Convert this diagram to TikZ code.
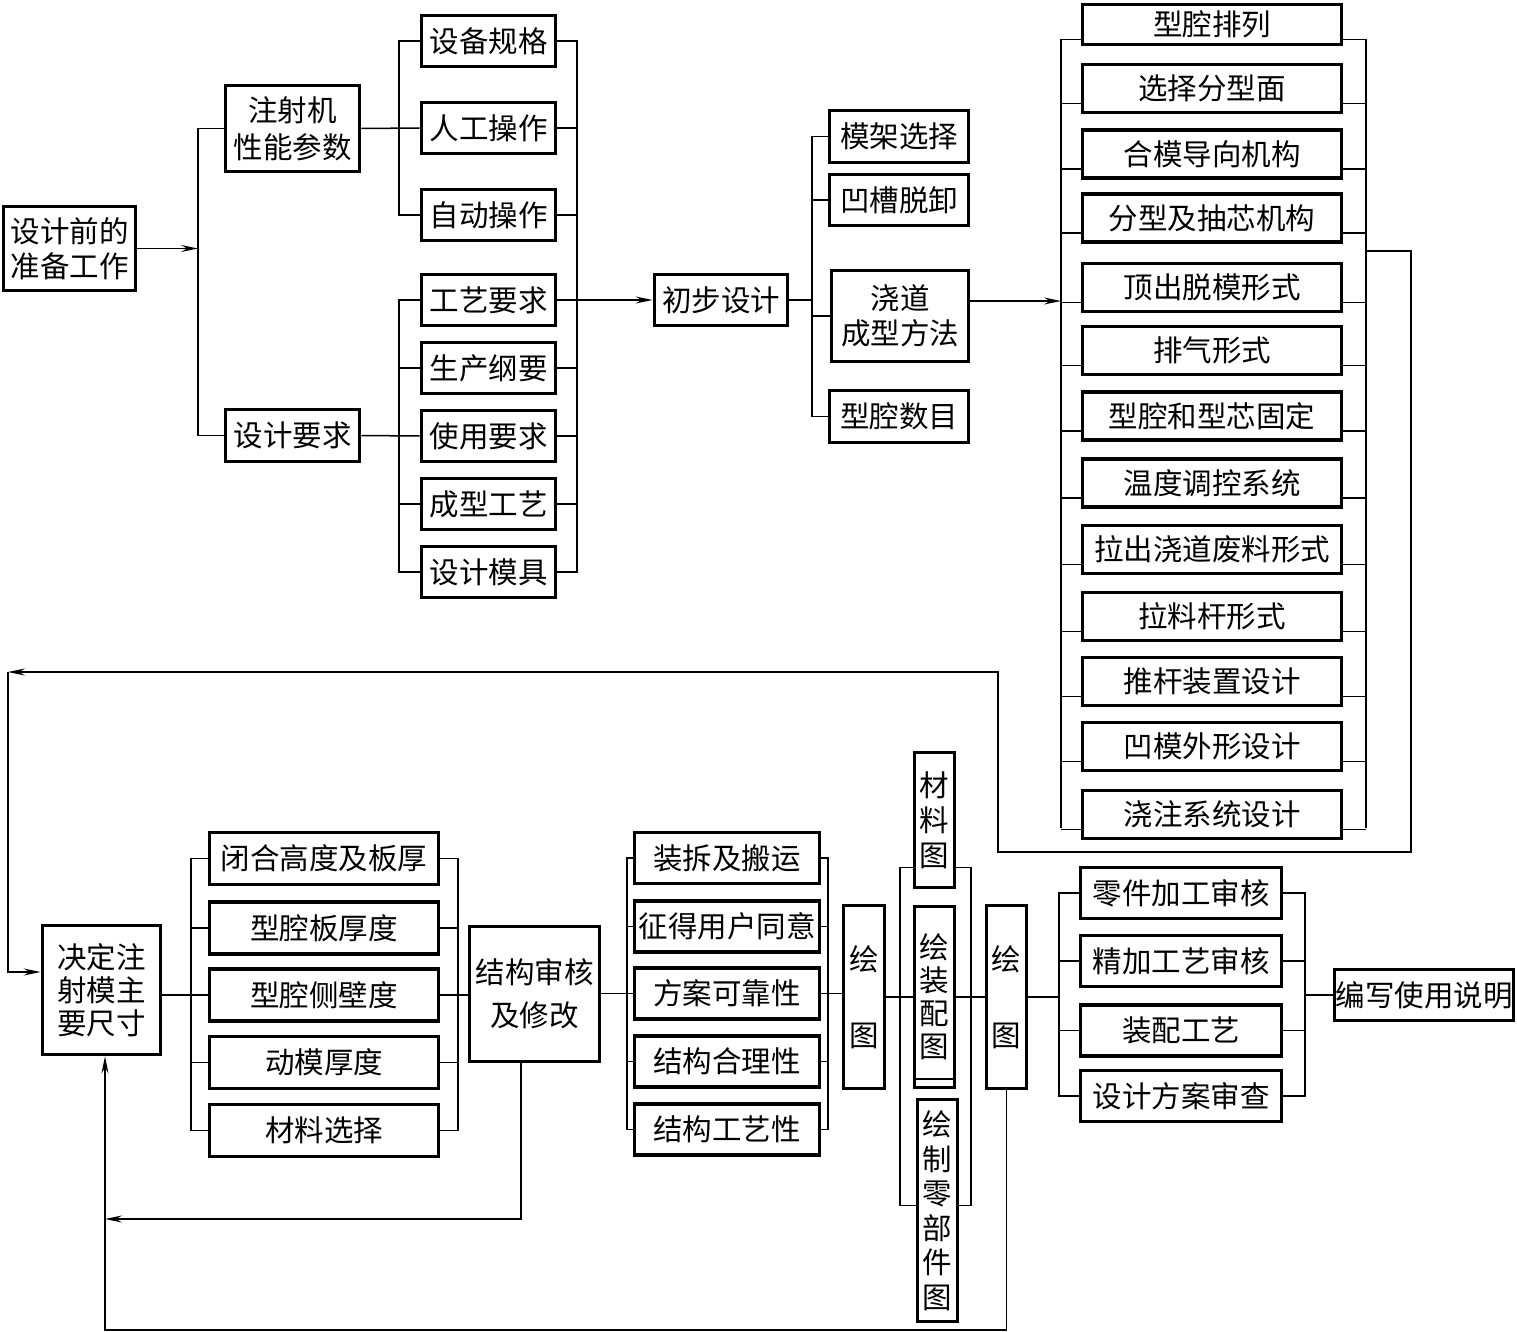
\documentclass[tikz,border=0pt]{standalone}
\usepackage{fontspec}
\newfontfamily\cjk{Noto Sans CJK SC}
\usetikzlibrary{arrows.meta}
\begin{document}
\begin{tikzpicture}[x=1pt,y=-1pt,
  bx/.style={draw, line width=3.8pt, inner sep=0pt, align=center, font=\cjk\fontsize{29.5}{35}\selectfont},
  ln/.style={line width=1.5pt},
  arr/.style={ln, -{Stealth[length=17pt,width=7pt,inset=6pt]}}
]
\useasboundingbox (0,0) rectangle (1517,1332);
\fill[white] (0,0) rectangle (1517,1332);
% bus x positions
\coordinate (x1) at (198,0);
\coordinate (x2) at (399,0);
\coordinate (x3) at (577,0);
\coordinate (x4) at (812,0);
\coordinate (x5) at (1061,0);
\coordinate (x6) at (1366,0);
\coordinate (xb1) at (191,0);
\coordinate (xb2) at (458,0);
\coordinate (xb3) at (627,0);
\coordinate (xb4) at (828,0);
\coordinate (xb5) at (900,0);
\coordinate (xb6) at (971,0);
\coordinate (xb7) at (1059,0);
\coordinate (xb8) at (1305,0);
% ---------- top part ----------
\node[bx,minimum width=132pt,minimum height=84pt] (A) at (69.5,248.5) {设计前的\\准备工作};
\node[bx,minimum width=134pt,minimum height=86pt,font=\cjk\fontsize{29.5}{37}\selectfont] (B) at (292.5,128.5) {注射机\\性能参数};
\node[bx,minimum width=134pt,minimum height=52pt] (C) at (292.5,435.5) {设计要求};
\foreach \n/\y/\t in {t1/41/设备规格, t2/128/人工操作, t3/215/自动操作,
                      l1/300/工艺要求, l2/368/生产纲要, l3/436/使用要求, l4/504/成型工艺, l5/572/设计模具}
  \node[bx,minimum width=134pt,minimum height=51pt] (\n) at (488.5,\y) {\t};
\node[bx,minimum width=133pt,minimum height=51pt] (P) at (721,300) {初步设计};
\node[bx,minimum width=139pt,minimum height=52pt] (m1) at (899,136.5) {模架选择};
\node[bx,minimum width=139pt,minimum height=51pt] (m2) at (899,200) {凹槽脱卸};
\node[bx,minimum width=137pt,minimum height=91pt] (m3) at (900,316) {浇道\\成型方法};
\node[bx,minimum width=139pt,minimum height=52pt] (m4) at (899,416.5) {型腔数目};
\node[bx,minimum width=259pt,minimum height=40pt] (r1) at (1212,24.5) {型腔排列};
\foreach \n/\y/\t in {r2/88.5/选择分型面, r3/154/合模导向机构, r4/218/分型及抽芯机构,
                      r5/287.5/顶出脱模形式, r6/350.5/排气形式, r7/416/型腔和型芯固定,
                      r8/483/温度调控系统, r9/549.5/拉出浇道废料形式, r10/616.5/拉料杆形式,
                      r11/681.5/推杆装置设计, r12/746.5/凹模外形设计, r13/814.5/浇注系统设计}
  \node[bx,minimum width=259pt,minimum height=48pt] (\n) at (1212,\y) {\t};
% top connectors
\draw[arr] (A.east) -- (A.east -| x1);
\draw[ln] (B.west) -- (B.west -| x1) -- (C.west -| x1) -- (C.west);
\draw[ln] (B.east) -- (t2.west);
\draw[ln] (t1.west) -- (t1.west -| x2) -- (t3.west -| x2) -- (t3.west);
\draw[ln] (C.east) -- (l3.west);
\draw[ln] (l1.west) -- (l1.west -| x2) -- (l5.west -| x2) -- (l5.west);
\foreach \n in {l2,l4} \draw[ln] (\n.west) -- (\n.west -| x2);
\draw[ln] (t1.east) -- (t1.east -| x3) -- (l5.east -| x3) -- (l5.east);
\foreach \n in {t2,t3,l2,l3,l4} \draw[ln] (\n.east) -- (\n.east -| x3);
\draw[arr] (l1.east) -- (P.west);
\draw[ln] (P.east) -- (P.east -| x4);
\draw[ln] (m1.west) -- (m1.west -| x4) -- (m4.west -| x4) -- (m4.west);
\foreach \n in {m2,m3} \draw[ln] (\n.west) -- (\n.west -| x4);
\draw[arr] ([yshift=15pt]m3.east) -- ([yshift=15pt]m3.east -| x5);
\foreach \i in {1,...,13} {
  \draw[ln] ([yshift=-15pt]r\i.west) -- ([yshift=-15pt]r\i.west -| x5);
  \draw[ln] ([yshift=-15pt]r\i.east) -- ([yshift=-15pt]r\i.east -| x6);
}
\draw[ln] ([yshift=-15pt]r1.west -| x5) -- ([yshift=-13pt]r13.west -| x5);
\draw[ln] ([yshift=-15pt]r1.east -| x6) -- ([yshift=-13pt]r13.east -| x6);
% ---------- bottom part ----------
\node[bx,minimum width=118pt,minimum height=129pt,font=\cjk\fontsize{29.5}{33}\selectfont] (D) at (101.5,990) {决定注\\射模主\\要尺寸};
\foreach \n/\y/\t in {b1/858.5/闭合高度及板厚, b2/928/型腔板厚度, b3/995/型腔侧壁度, b4/1062.5/动模厚度, b5/1130.5/材料选择}
  \node[bx,minimum width=229pt,minimum height=52pt] (\n) at (324,\y) {\t};
\node[bx,minimum width=130pt,minimum height=135pt,font=\cjk\fontsize{29.5}{43}\selectfont] (E) at (534.5,994) {结构审核\\及修改};
\foreach \n/\y/\t in {c1/858/装拆及搬运, c2/926.5/征得用户同意, c3/993.5/方案可靠性, c4/1061.5/结构合理性, c5/1129.5/结构工艺性}
  \node[bx,minimum width=185pt,minimum height=51pt] (\n) at (727,\y) {\t};
\node[bx,minimum width=41pt,minimum height=183pt] (F) at (864,997) {绘\\[41pt]图};
\node[bx,minimum width=40pt,minimum height=135pt] (G1) at (934.5,820) {材\\料\\图};
\node[bx,minimum width=40pt,minimum height=181pt,font=\cjk\fontsize{29.5}{33}\selectfont] (G2) at (934.5,997) {绘\\装\\配\\图};
\node[bx,minimum width=40pt,minimum height=222pt,font=\cjk\fontsize{29.5}{34.5}\selectfont] (G3) at (937.5,1210.5) {绘\\制\\零\\部\\件\\图};
\draw[line width=2pt] ([yshift=10pt]G2.south west) -- ([yshift=10pt]G2.south east);
\node[bx,minimum width=40pt,minimum height=183pt] (H) at (1006.5,997) {绘\\[41pt]图};
\foreach \n/\y/\t in {k1/893/零件加工审核, k2/961/精加工艺审核, k3/1030.5/装配工艺, k4/1096/设计方案审查}
  \node[bx,minimum width=201pt,minimum height=51pt] (\n) at (1181,\y) {\t};
\node[bx,minimum width=179pt,minimum height=51pt] (W) at (1424,995) {编写使用说明};
% bottom connectors
\draw[ln] (D.east |- b3.west) -- (b3.west);
\draw[ln] (b1.west) -- (b1.west -| xb1) -- (b5.west -| xb1) -- (b5.west);
\foreach \n in {b2,b4} \draw[ln] (\n.west) -- (\n.west -| xb1);
\draw[ln] (b1.east) -- (b1.east -| xb2) -- (b5.east -| xb2) -- (b5.east);
\foreach \n in {b2,b4} \draw[ln] (\n.east) -- (\n.east -| xb2);
\draw[ln] (b3.east) -- (E.west |- b3.east);
\draw[ln] (E.east |- c3.west) -- (c3.west);
\draw[ln] (c1.west) -- (c1.west -| xb3) -- (c5.west -| xb3) -- (c5.west);
\foreach \n in {c2,c4} \draw[ln] (\n.west) -- (\n.west -| xb3);
\draw[ln] (c1.east) -- (c1.east -| xb4) -- (c5.east -| xb4) -- (c5.east);
\foreach \n in {c2,c4} \draw[ln] (\n.east) -- (\n.east -| xb4);
\draw[ln] (c3.east) -- (F.west |- c3.east);
\draw[ln] (F.east) -- (G2.west);
\draw[ln] ([yshift=22pt]G1.south west) -- ([yshift=22pt]G1.south west -| xb5) -- ([yshift=5pt]G3.west -| xb5) -- ([yshift=5pt]G3.west);
\draw[ln] ([yshift=22pt]G1.south east) -- ([yshift=22pt]G1.south east -| xb6) -- ([yshift=5pt]G3.east -| xb6) -- ([yshift=5pt]G3.east);
\draw[ln] (G2.east) -- (H.west);
\draw[ln] (H.east) -- (H.east -| xb7);
\draw[ln] (k1.west) -- (k1.west -| xb7) -- (k4.west -| xb7) -- (k4.west);
\foreach \n in {k2,k3} \draw[ln] (\n.west) -- (\n.west -| xb7);
\draw[ln] (k1.east) -- (k1.east -| xb8) -- (k4.east -| xb8) -- (k4.east);
\foreach \n in {k2,k3} \draw[ln] (\n.east) -- (\n.east -| xb8);
\draw[ln] (W.west -| xb8) -- (W.west);
% feedback loops
\coordinate (f0) at (1366,251);
\coordinate (f1) at (1411,251);
\coordinate (f2) at (1411,852);
\coordinate (f3) at (998,852);
\coordinate (f4) at (998,672);
\coordinate (f5) at (8,672);
\coordinate (f6) at (8,972);
\draw[arr] (f0) -- (f1) -- (f2) -- (f3) -- (f4) -- (f5);
\draw[arr] (f5) -- (f6) -- (f6 -| D.west);
\coordinate (e1) at (521,1219);
\coordinate (e2) at (105,1219);
\draw[arr] ([xshift=-13.5pt]E.south) -- (e1) -- (e2);
\coordinate (h1) at (1006.5,1330);
\coordinate (h2) at (105,1330);
\draw[arr] (H.south) -- (h1) -- (h2) -- ([xshift=3.5pt]D.south);
\end{tikzpicture}
\end{document}
